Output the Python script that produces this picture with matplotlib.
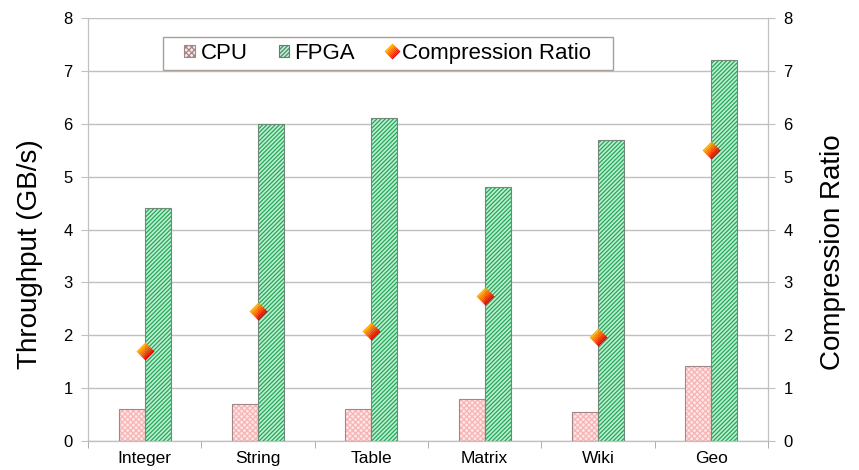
import matplotlib
matplotlib.use("Agg")
import matplotlib.pyplot as plt
import numpy as np
from matplotlib.path import Path
from matplotlib.patches import Patch, Rectangle
from matplotlib.lines import Line2D

categories = ["Integer", "String", "Table", "Matrix", "Wiki", "Geo"]
cpu = [0.6, 0.7, 0.6, 0.8, 0.55, 1.42]
fpga = [4.4, 6.0, 6.1, 4.8, 5.7, 7.2]
ratio = [1.7, 2.45, 2.08, 2.75, 1.97, 5.5]
y_ticks = [0, 1, 2, 3, 4, 5, 6, 7, 8]

plt.rcParams['font.family'] = ['Liberation Sans', 'DejaVu Sans']
plt.rcParams['hatch.linewidth'] = 0.9

fig = plt.figure(figsize=(8.59, 4.70), dpi=100)
ax = fig.add_axes([88/859, 29/470, 680/859, 423/470])
ax2 = ax.twinx()

x = np.arange(len(categories))
w = 0.23
grid_c = '#c0c0c0'

for yv in y_ticks:
    ax.axhline(yv, color=grid_c, lw=1.0, zorder=0)

# CPU bars (pink fine pattern)
ax.bar(x - w/2, cpu, w, color='#ffe6e6', edgecolor='#f7b4b4', hatch='xxxxxx', lw=0, zorder=2)
ax.bar(x - w/2, cpu, w, fill=False, edgecolor='#a08888', lw=0.8, zorder=3)
# FPGA bars (green diagonal)
ax.bar(x + w/2, fpga, w, color='#c0eed2', edgecolor='#22a858', hatch='////////', lw=0, zorder=2)
ax.bar(x + w/2, fpga, w, fill=False, edgecolor='#708878', lw=0.8, zorder=3)

ax.set_xlim(-0.5, len(categories) - 0.5)
ax.set_ylim(0, 8)
ax2.set_ylim(0, 8)
ax.set_yticks(y_ticks)
ax2.set_yticks(y_ticks)

ax.set_xticks(x)
ax.set_xticklabels(categories, fontsize=12.5)
ax.tick_params(axis='x', length=0, pad=7)
ax.set_xticks(np.arange(len(categories) + 1) - 0.5, minor=True)
ax.tick_params(axis='x', which='minor', length=5, color='#a0a0a0', direction='out')

ax.tick_params(axis='y', length=5, color=grid_c, labelsize=12, pad=6, direction='out')
ax2.tick_params(axis='y', length=5, color=grid_c, labelsize=12, pad=6, direction='out')

for a in (ax, ax2):
    for s in a.spines.values():
        s.set_color(grid_c)
    a.spines['top'].set_visible(False)
ax.spines['bottom'].set_color('#a0a0a0')

ax.set_ylabel("Throughput (GB/s)", fontsize=20)
ax2.set_ylabel("Compression Ratio", fontsize=20)
ax.yaxis.set_label_coords(-0.066, 0.442)
ax2.yaxis.set_label_coords(1.076, 0.446)

# gradient diamond made of strips (orange top-left -> red bottom-right)
n_strips = 8
c_top = np.array([1.0, 0.68, 0.0])
c_bot = np.array([0.92, 0.0, 0.0])
rot = np.array([[np.cos(np.pi/4), -np.sin(np.pi/4)], [np.sin(np.pi/4), np.cos(np.pi/4)]])
corners = (rot @ np.array([[-0.5, -0.5], [0.5, -0.5], [0.5, 0.5], [-0.5, 0.5]]).T).T
strip_markers = []
for k in range(n_strips):
    y0 = -0.5 + k / n_strips
    y1 = -0.5 + (k + 1.02) / n_strips if k < n_strips - 1 else 0.5
    sq = np.array([[-0.5, y0], [0.5, y0], [0.5, y1], [-0.5, y1], [-0.5, y0]])
    verts = (rot @ sq.T).T
    allv = np.vstack([verts, corners])
    codes = [Path.MOVETO, Path.LINETO, Path.LINETO, Path.LINETO, Path.CLOSEPOLY] + [Path.MOVETO] * 4
    col = c_bot + (c_top - c_bot) * (k / (n_strips - 1))
    strip_markers.append((Path(allv, codes), col))

ms = 13
for mk, col in strip_markers:
    ax2.plot(x, ratio, linestyle='none', marker=mk, markersize=ms,
             markerfacecolor=col, markeredgewidth=0, zorder=5)


class DiamondHandler:
    def legend_artist(self, legend, orig_handle, fontsize, handlebox):
        cx = handlebox.width / 2 - handlebox.xdescent
        cy = handlebox.height / 2 - handlebox.ydescent
        last = None
        for mk, col in strip_markers:
            ln = Line2D([cx], [cy], linestyle='none', marker=mk, markersize=11.5,
                        markerfacecolor=col, markeredgewidth=0)
            handlebox.add_artist(ln)
            last = ln
        return last


class DiamondKey:
    pass


handles = [
    Patch(facecolor='#ffe6e6', edgecolor='#a08888', hatch='xxxxxx', lw=0.8),
    Patch(facecolor='#c0eed2', edgecolor='#508868', hatch='////////', lw=0.8),
    DiamondKey(),
]

# legend frame
rect = Rectangle((0.110, 0.877), 0.662, 0.078, transform=ax2.transAxes,
                 facecolor='white', edgecolor='#a8a098', lw=1.0, zorder=8)
ax2.add_patch(rect)
leg = ax2.legend(handles, ["CPU", "FPGA", "Compression Ratio"], ncol=3,
                 loc='center', bbox_to_anchor=(0.441, 0.916),
                 fontsize=16, frameon=False,
                 handlelength=0.47, handleheight=0.47, handletextpad=0.25,
                 columnspacing=1.4, borderpad=0.0,
                 handler_map={DiamondKey: DiamondHandler()})
leg.set_zorder(9)

fig.savefig("out.png", dpi=100)
